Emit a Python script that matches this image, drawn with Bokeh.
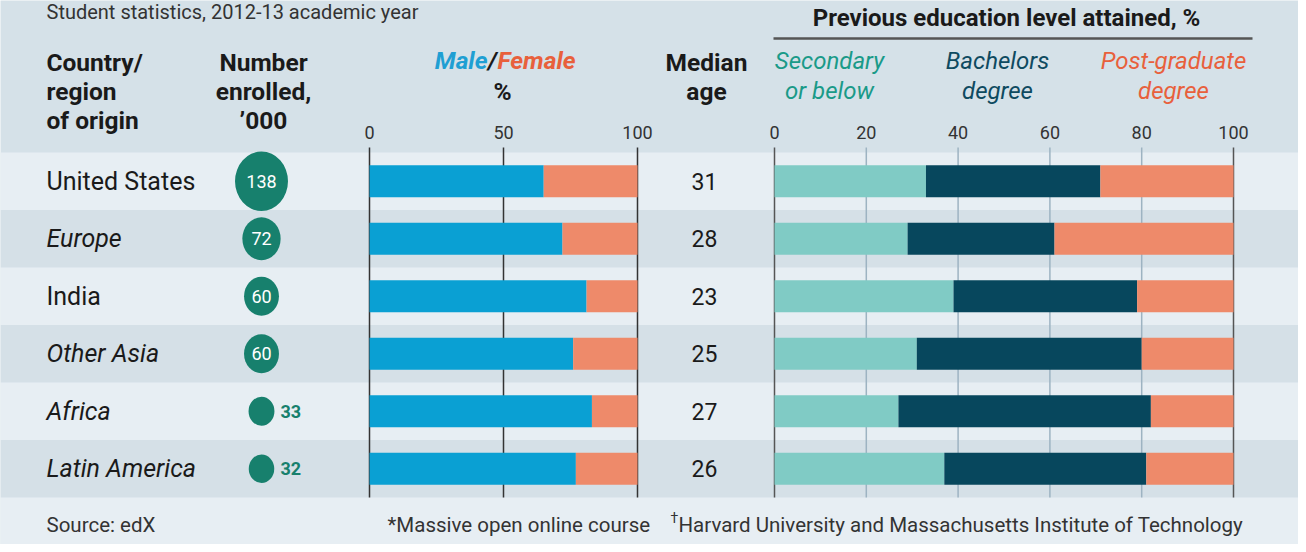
from bokeh.plotting import figure
from bokeh.models import Range1d, ColumnDataSource
from bokeh.core.properties import value
from bokeh.embed import file_html
from bokeh.resources import INLINE
import numpy as np

# ---------------- data ----------------
countries = ["United States", "Europe", "India", "Other Asia", "Africa", "Latin America"]
is_region = [False, True, False, True, True, True]
enrolled = [138, 72, 60, 60, 33, 32]          # '000
male_pct = [65, 72, 81, 76, 83, 77]
female_pct = [100 - m for m in male_pct]
median_age = [31, 28, 23, 25, 27, 26]
secondary = [33, 29, 39, 31, 27, 37]
bachelors = [38, 32, 40, 49, 55, 44]
postgrad = [29, 39, 21, 20, 18, 19]
mf_ticks = [0, 50, 100]
edu_ticks = [0, 20, 40, 60, 80, 100]

# ---------------- layout (figure pixels) ----------------
W, H = 1298, 544
FONT = "Roboto"
ROW0, ROWH = 180.75, 57.5            # centre of first row, row height
MF0, MF100 = 369, 637                 # pixel of 0% / 100%  (male/female)
ED0, ED100 = 774, 1233                # pixel of 0% / 100%  (education)

def lin_range(p0, p100):
    s = (p100 - p0) / 100.0
    return Range1d(-p0 / s, 100 + (W - p100) / s)

p = figure(width=W, height=H, output_backend="svg", toolbar_location=None,
           x_range=lin_range(MF0, MF100),
           y_range=Range1d((H - ROW0) / ROWH, -ROW0 / ROWH),
           x_axis_location=None, y_axis_location=None, min_border=0,
           outline_line_color=None, background_fill_color="#d5e1e8",
           border_fill_color="#d5e1e8")
p.grid.visible = False
p.extra_x_ranges = {"edu": lin_range(ED0, ED100), "px": Range1d(0, W)}
p.extra_y_ranges = {"py": Range1d(H, 0)}

n = len(countries)
rows = list(range(n))
src = ColumnDataSource(dict(
    row=rows, country=countries,
    style=["italic" if r else "normal" for r in is_region],
    enrolled=enrolled, male=male_pct, female=female_pct, age=[str(a) for a in median_age],
    sec=secondary, bach=bachelors, post=postgrad,
    sec_end=secondary, bach_end=[s + b for s, b in zip(secondary, bachelors)],
    zero=[0] * n, hundred=[100] * n,
    band=["#e7eef3" if i % 2 == 0 else "#d5e0e7" for i in rows],
    dw=[4.51 * np.sqrt(v) for v in enrolled],
    dh=[4.51 * 1.12 * np.sqrt(v) for v in enrolled],
    lab=[str(v) for v in enrolled],
))

# row bands and footer
p.hbar(y="row", left=0, right=W, height=1.0, fill_color="band", line_color=None,
       source=src, x_range_name="px")
p.quad(left=0, right=W, bottom=H, top=497, fill_color="#e7eef3", line_color=None,
       x_range_name="px", y_range_name="py")

# grid lines
GT, GB = 147, 497
p.segment(x0=mf_ticks, x1=mf_ticks, y0=GT, y1=GB, line_color="#333333", line_width=1.5,
          y_range_name="py")
edu_col = ["#555555" if t in (0, 100) else "#9db3c2" for t in edu_ticks]
p.segment(x0=edu_ticks, x1=edu_ticks, y0=GT, y1=GB, line_color=edu_col, line_width=1.5,
          x_range_name="edu", y_range_name="py")

# male / female bars
BH = 0.556
p.hbar(y="row", left="zero", right="male", height=BH, fill_color="#0aa0d3", line_color=None, source=src)
p.hbar(y="row", left="male", right="hundred", height=BH, fill_color="#ee8a6a", line_color=None, source=src)

# education bars
p.hbar(y="row", left="zero", right="sec_end", height=BH, fill_color="#80cbc5", line_color=None,
       source=src, x_range_name="edu")
p.hbar(y="row", left="sec_end", right="bach_end", height=BH, fill_color="#07475d", line_color=None,
       source=src, x_range_name="edu")
p.hbar(y="row", left="bach_end", right="hundred", height=BH, fill_color="#ee8a6a", line_color=None,
       source=src, x_range_name="edu")

# enrolment bubbles
GREEN = "#17806d"
p.ellipse(x=261, y="row", width="dw", height="dh", width_units="screen", height_units="screen",
          fill_color=GREEN, line_color=None, source=src, x_range_name="px")
inside = [i for i in rows if enrolled[i] >= 50]
outside = [i for i in rows if enrolled[i] < 50]
p.text(x=[261] * len(inside), y=inside, text=[str(enrolled[i]) for i in inside],
       text_align="center", text_baseline="middle", text_color="white",
       text_font=value(FONT), text_font_size="18px", x_range_name="px")
p.text(x=[280] * len(outside), y=outside, text=[str(enrolled[i]) for i in outside],
       text_align="left", text_baseline="middle", text_color=GREEN, text_font_style="bold",
       text_font=value(FONT), text_font_size="18px", x_range_name="px")

# country names and median age
p.text(x=46, y="row", text="country", text_font_style="style", text_align="left",
       text_baseline="middle", text_color="#1a1a1a", text_font=value(FONT),
       text_font_size="25px", source=src, x_range_name="px")
p.text(x=704, y="row", text="age", text_align="center", text_baseline="middle",
       text_color="#1a1a1a", text_font=value(FONT), text_font_size="23px",
       source=src, x_range_name="px")

# tick labels
p.text(x=mf_ticks, y=[132] * 3, text=[str(t) for t in mf_ticks], text_align="center",
       text_baseline="middle", text_color="#333333", text_font=value(FONT),
       text_font_size="18px", y_range_name="py")
p.text(x=edu_ticks, y=[132] * 6, text=[str(t) for t in edu_ticks], text_align="center",
       text_baseline="middle", text_color="#333333", text_font=value(FONT),
       text_font_size="18px", x_range_name="edu", y_range_name="py")

def t(x, y, s, size="24px", color="#1a1a1a", align="left", style="normal"):
    p.text(x=[x], y=[y], text=[s], text_align=align, text_baseline="middle",
           text_color=color, text_font=value(FONT), text_font_size=size,
           text_font_style=style, x_range_name="px", y_range_name="py")

# subtitle
t(46, 11, "Student statistics, 2012-13 academic year", size="20px", color="#333333")
# headers
HB = "24.5px"
for i, s in enumerate(["Country/", "region", "of origin"]):
    t(46, 62 + 29 * i, s, style="bold", size=HB)
for i, s in enumerate(["Number", "enrolled,", "\u2019000"]):
    t(263, 62 + 29 * i, s, align="center", style="bold", size=HB)
t(487, 60, "Male", color="#1f9fd3", align="right", style="bold italic", size=HB)
t(492, 60, "/", color="#1a1a1a", align="center", style="bold italic", size=HB)
t(497, 60, "Female", color="#e8603c", align="left", style="bold italic", size=HB)
t(502, 91, "%", align="center", style="bold", size=HB)
t(706, 62, "Median", align="center", style="bold", size=HB)
t(706, 91, "age", align="center", style="bold", size=HB)
t(829, 60, "Secondary", color="#1a9a88", align="center", style="italic")
t(829, 90, "or below", color="#1a9a88", align="center", style="italic")
t(997, 60, "Bachelors", color="#0e4a60", align="center", style="italic")
t(997, 90, "degree", color="#0e4a60", align="center", style="italic")
t(1173, 60, "Post-graduate", color="#e8603c", align="center", style="italic")
t(1173, 90, "degree", color="#e8603c", align="center", style="italic")
t(1006, 17, "Previous education level attained, %", align="center", style="bold", size="24px")
p.segment(x0=[773], x1=[1252], y0=[38], y1=[38], line_color="#555555", line_width=2.5,
          x_range_name="px", y_range_name="py")

# footer
t(46, 524, "Source: edX", size="20.5px", color="#333333")
t(387, 524, "*Massive open online course", size="20.5px", color="#333333")
p.text(x=[670], y=[517], text=["\u2020"], text_align="left", text_baseline="middle",
       text_color="#333333", text_font=value(FONT), text_font_size="14px",
       x_range_name="px", y_range_name="py")
t(678, 524, "Harvard University and Massachusetts Institute of Technology", size="20.5px", color="#333333")

open("out.html", "w").write(file_html(p, INLINE))
